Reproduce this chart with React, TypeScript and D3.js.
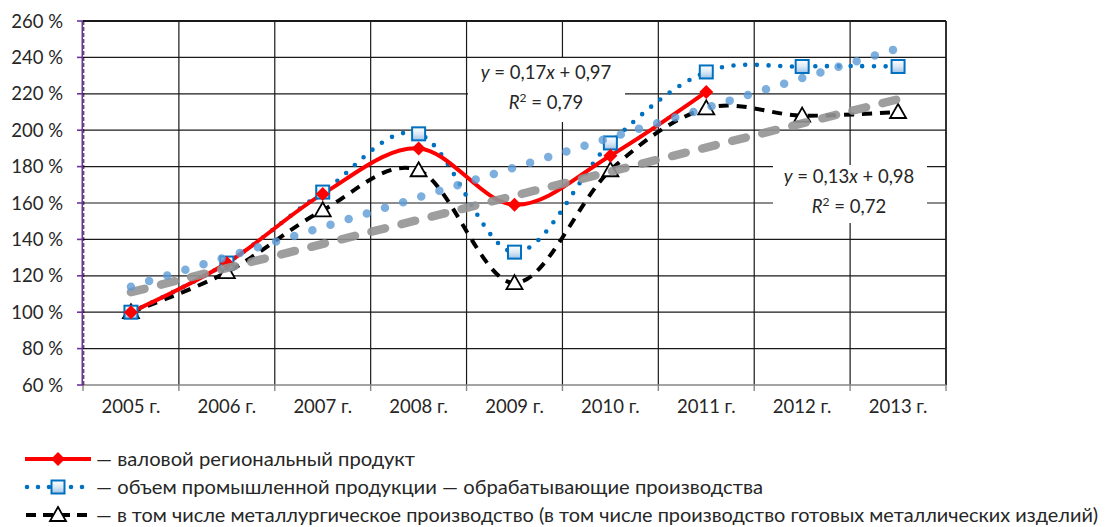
import React from 'react'
import * as d3 from 'd3'

// categories and values (percent of 2005)
const years = ['2005 г.', '2006 г.', '2007 г.', '2008 г.', '2009 г.', '2010 г.', '2011 г.', '2012 г.', '2013 г.']
const grpValues = [100, 127, 165, 190, 159, 186, 221]
const manufValues = [100, 127, 166, 198, 133, 193, 232, 235, 235]
const metalValues = [100, 122, 156, 178, 116, 178, 212, 208, 210]
// linear trend lines, value at first and last year
const manufTrend = [114, 245]
const metalTrend = [111, 217]
const yTicks = [60, 80, 100, 120, 140, 160, 180, 200, 220, 240, 260]

const legendLabels = [
	'— валовой региональный продукт',
	'— объем промышленной продукции — обрабатывающие производства',
	'— в том числе металлургическое производство (в том числе производство готовых металлических изделий)',
]
const legendWidths = [319, 667, 1002]

const W = 1108
const H = 527
const FONT = 'Lato, "Open Sans", sans-serif'
const TXT = '#262626'
const FS = 18.5

const x = d3.scaleBand<string>().domain(years).range([83, 946]).padding(0)
const y = d3.scaleLinear().domain([60, 260]).range([385, 21])
const cx = (i: number) => (x(years[i]) as number) + x.bandwidth() / 2

const smooth = d3
	.line<number>()
	.x((_, i) => cx(i))
	.y((v) => y(v))
	.curve(d3.curveCardinal.tension(0))

const trend = (ends: number[]) =>
	d3.line<number>()
		.x((_, i) => (i === 0 ? cx(0) : cx(years.length - 1)))
		.y((v) => y(v))(ends) as string

const Diamond = ({ px, py }: { px: number; py: number }) => (
	<path d={`M${px},${py - 7}L${px + 7},${py}L${px},${py + 7}L${px - 7},${py}Z`} fill="#ff0000" />
)
const Square = ({ px, py }: { px: number; py: number }) => (
	<rect x={px - 6.5} y={py - 6.5} width={13} height={13} fill="url(#sqFill)" stroke="#0070c0" strokeWidth={2} />
)
const Triangle = ({ px, py }: { px: number; py: number }) => (
	<path d={`M${px},${py - 8}L${px + 8},${py + 6}L${px - 8},${py + 6}Z`} fill="#fff" stroke="#000" strokeWidth={1.8} strokeLinejoin="miter" />
)

export default function App() {
	const bounds = years.map((yr) => x(yr) as number).concat([x.range()[1]])
	const legY = [459, 487, 515]
	return (
		<div style={{ position: 'absolute', left: 0, top: 0 }}>
			<svg width={W} height={H} style={{ display: 'block', fontFamily: FONT }}>
				<defs>
					<linearGradient id="sqFill" x1="0" y1="0" x2="0" y2="1">
						<stop offset="0" stopColor="#ffffff" />
						<stop offset="0.5" stopColor="#dce9f6" />
						<stop offset="1" stopColor="#9dc3e6" />
					</linearGradient>
				</defs>
				<rect width={W} height={H} fill="#fff" />

				{/* gridlines */}
				{yTicks.slice(1).map((t) => (
					<line key={t} x1={83} x2={946} y1={y(t)} y2={y(t)} stroke="#1a1a1a" strokeWidth={t === 260 ? 2 : 1.2} />
				))}
				{bounds.slice(1).map((b, i) => (
					<line key={i} x1={b} x2={b} y1={y(260)} y2={y(60)} stroke="#1a1a1a" strokeWidth={i === bounds.length - 2 ? 1.8 : 1.2} />
				))}

				{/* x axis */}
				<line x1={83} x2={946} y1={y(60)} y2={y(60)} stroke="#868686" strokeWidth={1.6} />
				{bounds.map((b, i) => (
					<line key={i} x1={b} x2={b} y1={y(60)} y2={y(60) + 6} stroke="#868686" strokeWidth={1.4} />
				))}
				{years.map((yr, i) => (
					<text key={yr} x={cx(i)} y={413} textAnchor="middle" fontSize={FS} fill={TXT}>{yr}</text>
				))}

				{/* y axis */}
				<line x1={82.3} x2={82.3} y1={y(260)} y2={y(60)} stroke="#7030a0" strokeWidth={1.6} />
				<line x1={83.8} x2={83.8} y1={y(260)} y2={y(60)} stroke="#000" strokeWidth={0.9} strokeDasharray="4 2" />
				{yTicks.map((t) => (
					<g key={t}>
						<line x1={77} x2={83} y1={y(t)} y2={y(t)} stroke="#7030a0" strokeWidth={1.6} />
						<text x={63} y={y(t) + 6.5} textAnchor="end" fontSize={FS} fill={TXT}>{`${t} %`}</text>
					</g>
				))}

				{/* series lines */}
				<path d={smooth(metalValues) as string} fill="none" stroke="#000" strokeWidth={4} strokeDasharray="10 8" />
				<path d={smooth(manufValues) as string} fill="none" stroke="#0070c0" strokeWidth={4.6} strokeLinecap="round" strokeDasharray="0 11.7" />
				<path d={smooth(grpValues) as string} fill="none" stroke="#ff0000" strokeWidth={4} />

				{/* markers */}
				{metalValues.map((v, i) => <Triangle key={'t' + i} px={cx(i)} py={y(v)} />)}
				{manufValues.map((v, i) => <Square key={'s' + i} px={cx(i)} py={y(v)} />)}
				{grpValues.map((v, i) => <Diamond key={'d' + i} px={cx(i)} py={y(v)} />)}

				{/* trend lines */}
				<path d={trend(metalTrend)} fill="none" stroke="#939393" strokeOpacity={0.9} strokeWidth={8.5} strokeLinecap="round" strokeDasharray="14 17" />
				<path d={trend(manufTrend)} fill="none" stroke="#5b9bd5" strokeOpacity={0.8} strokeWidth={8.5} strokeLinecap="round" strokeDasharray="0 19" />

				{/* trend equations */}
				<rect x={468} y={58} width={157} height={64} fill="#fff" />
				<text x={546} y={79} textAnchor="middle" fontSize={FS} fill={TXT}>
					<tspan fontStyle="italic">y</tspan> = 0,17<tspan fontStyle="italic">x</tspan> + 0,97
				</text>
				<text x={546} y={109} textAnchor="middle" fontSize={FS} fill={TXT}>
					<tspan fontStyle="italic">R</tspan><tspan fontSize={12} dy={-7}>2</tspan><tspan dy={7}> = 0,79</tspan>
				</text>
				<rect x={773} y={165} width={154} height={58} fill="#fff" />
				<text x={849} y={183} textAnchor="middle" fontSize={FS} fill={TXT}>
					<tspan fontStyle="italic">y</tspan> = 0,13<tspan fontStyle="italic">x</tspan> + 0,98
				</text>
				<text x={849} y={213} textAnchor="middle" fontSize={FS} fill={TXT}>
					<tspan fontStyle="italic">R</tspan><tspan fontSize={12} dy={-7}>2</tspan><tspan dy={7}> = 0,72</tspan>
				</text>

				{/* legend */}
				<line x1={25} x2={91} y1={legY[0]} y2={legY[0]} stroke="#ff0000" strokeWidth={4} />
				<Diamond px={58} py={legY[0]} />
				<line x1={27} x2={84} y1={legY[1]} y2={legY[1]} stroke="#0070c0" strokeWidth={4.6} strokeLinecap="round" strokeDasharray="0 11" />
				<Square px={58} py={legY[1]} />
				<line x1={26} x2={90} y1={legY[2]} y2={legY[2]} stroke="#000" strokeWidth={4} strokeDasharray="10 7" />
				<Triangle px={58} py={legY[2]} />
				{legendLabels.map((l, i) => (
					<text key={i} x={96} y={legY[i] + 7} fontSize={20} fill={TXT} textLength={legendWidths[i]} lengthAdjust="spacingAndGlyphs">{l}</text>
				))}
			</svg>
		</div>
	)
}
